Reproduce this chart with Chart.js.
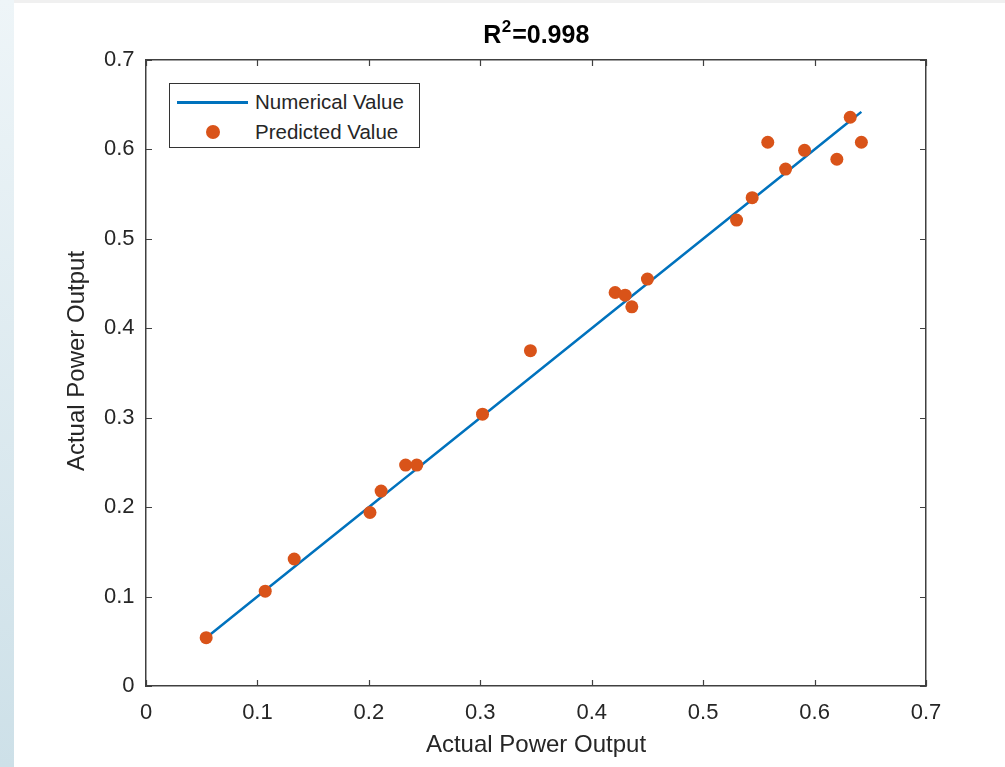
<!DOCTYPE html>
<html>
<head>
<meta charset="utf-8">
<script src="https://cdn.jsdelivr.net/npm/chart.js@4/dist/chart.umd.min.js"></script>
<style>
  body { margin: 0; background: #fff; font-family: "Liberation Sans", Arial, sans-serif; }
  #strip { position: absolute; left: 0; top: 0; width: 14px; height: 767px;
    background: linear-gradient(to bottom, #eef5f8, #cde0e8); }
  #topbar { position: absolute; left: 14px; top: 0; width: 991px; height: 3px; background: #f0f0f0; }
  #wrap { position: absolute; left: 0; top: 0; width: 1005px; height: 767px; }
  #legend { position: absolute; left: 169px; top: 83px; width: 249px; height: 63px;
    border: 1px solid #333; background: #fff; color: #262626; font-size: 20.5px; }
  .row { position: absolute; left: 0; height: 30px; line-height: 30px; width: 100%; }
  .row span.txt { position: absolute; left: 85px; top: 0; }
  .swLine { position: absolute; left: 7px; top: 14px; width: 71px; height: 3px; background: #0072bd; }
  .swDot { position: absolute; left: 36px; top: 8px; width: 14px; height: 14px; border-radius: 50%; background: #d95319; }
</style>
</head>
<body>
<div id="strip"></div>
<div id="topbar"></div>
<div id="wrap"><canvas id="chart"></canvas></div>
<div id="legend">
  <div class="row" style="top:3px"><div class="swLine"></div><span class="txt">Numerical Value</span></div>
  <div class="row" style="top:33px"><div class="swDot"></div><span class="txt">Predicted Value</span></div>
</div>
<script>
const actual = [0.054, 0.107, 0.133, 0.201, 0.211, 0.233, 0.243, 0.302, 0.345, 0.421,
  0.430, 0.436, 0.450, 0.530, 0.544, 0.558, 0.574, 0.591, 0.620, 0.632, 0.642];
const predicted = [0.054, 0.106, 0.142, 0.194, 0.218, 0.247, 0.247, 0.304, 0.375, 0.440,
  0.437, 0.424, 0.455, 0.521, 0.546, 0.608, 0.578, 0.599, 0.589, 0.636, 0.608];
const tickValues = [0, 0.1, 0.2, 0.3, 0.4, 0.5, 0.6, 0.7];
const tickLabels = ["0", "0.1", "0.2", "0.3", "0.4", "0.5", "0.6", "0.7"];
const titleParts = ["R", "2", "=0.998"];
const axisLabel = "Actual Power Output";

const axisColor = "#404040";
const textColor = "#262626";
const fam = '"Liberation Sans", Arial, sans-serif';

function fixTicks(s) { s.ticks = tickValues.map(v => ({ value: v })); }

// inward tick marks on all four sides, title with superscript, y label
const extras = {
  id: "extras",
  afterDraw(chart) {
    const { ctx, chartArea: a, scales } = chart;
    const len = 6;
    ctx.save();
    ctx.strokeStyle = axisColor;
    ctx.lineWidth = 1.2;
    ctx.beginPath();
    tickValues.forEach(v => {
      const px = Math.round(scales.x.getPixelForValue(v)) + 0.5;
      const py = Math.round(scales.y.getPixelForValue(v)) + 0.5;
      ctx.moveTo(px, a.bottom); ctx.lineTo(px, a.bottom - len);
      ctx.moveTo(px, a.top); ctx.lineTo(px, a.top + len);
      ctx.moveTo(a.left, py); ctx.lineTo(a.left + len, py);
      ctx.moveTo(a.right, py); ctx.lineTo(a.right - len, py);
    });
    ctx.stroke();

    // title
    const big = "bold 25px " + fam, small = "bold 17px " + fam;
    ctx.fillStyle = "#000";
    ctx.textBaseline = "alphabetic";
    ctx.textAlign = "left";
    ctx.font = big;
    const w0 = ctx.measureText(titleParts[0]).width;
    const w2 = ctx.measureText(titleParts[2]).width;
    ctx.font = small;
    const w1 = ctx.measureText(titleParts[1]).width + 1;
    let x = (a.left + a.right) / 2 - (w0 + w1 + w2) / 2;
    const base = 43;
    ctx.font = big; ctx.fillText(titleParts[0], x, base); x += w0 + 0.5;
    ctx.font = small; ctx.fillText(titleParts[1], x, base - 11); x += w1;
    ctx.font = big; ctx.fillText(titleParts[2], x, base);

    // y axis label
    ctx.fillStyle = textColor;
    ctx.font = "24px " + fam;
    ctx.textAlign = "center";
    ctx.textBaseline = "middle";
    ctx.translate(77, 361);
    ctx.rotate(-Math.PI / 2);
    ctx.fillText(axisLabel, 0, 0);
    ctx.restore();
  }
};

const border = { display: true, color: axisColor, width: 1.5 };

new Chart(document.getElementById("chart"), {
  type: "scatter",
  data: {
    datasets: [
      {
        label: "Predicted Value",
        data: actual.map((v, i) => ({ x: v, y: predicted[i] })),
        backgroundColor: "#d95319",
        borderWidth: 0,
        pointRadius: 6.5,
        order: 0,
      },
      {
        type: "line",
        label: "Numerical Value",
        data: actual.map(v => ({ x: v, y: v })),
        borderColor: "#0072bd",
        borderWidth: 2.5,
        pointRadius: 0,
        fill: false,
        order: 1,
      },
    ],
  },
  options: {
    responsive: true,
    maintainAspectRatio: false,
    animation: false,
    layout: { padding: 0 },
    plugins: { legend: { display: false }, tooltip: { enabled: false } },
    scales: {
      x: {
        type: "linear", position: "bottom", min: 0, max: 0.7,
        afterBuildTicks: fixTicks,
        afterFit: s => { s.height = 81; },
        grid: { display: false, drawTicks: false },
        border,
        ticks: { color: textColor, font: { family: fam, size: 22 }, padding: 14,
          maxRotation: 0, callback: (v, i) => tickLabels[i] },
        title: { display: true, text: axisLabel, color: textColor,
          font: { family: fam, size: 24 }, padding: { top: 0, bottom: 7.6 } },
      },
      y: {
        type: "linear", position: "left", min: 0, max: 0.7,
        afterBuildTicks: fixTicks,
        afterFit: s => { s.width = 146; },
        grid: { display: false, drawTicks: false },
        border,
        ticks: { color: textColor, font: { family: fam, size: 22 }, padding: 11.5,
          callback: (v, i) => tickLabels[i] },
      },
      x2: {
        type: "linear", position: "top", min: 0, max: 0.7,
        afterFit: s => { s.height = 60; },
        grid: { display: false, drawTicks: false },
        border,
        ticks: { display: false },
      },
      y2: {
        type: "linear", position: "right", min: 0, max: 0.7,
        afterFit: s => { s.width = 79; },
        grid: { display: false, drawTicks: false },
        border,
        ticks: { display: false },
      },
    },
  },
  plugins: [extras],
});
</script>
</body>
</html>
